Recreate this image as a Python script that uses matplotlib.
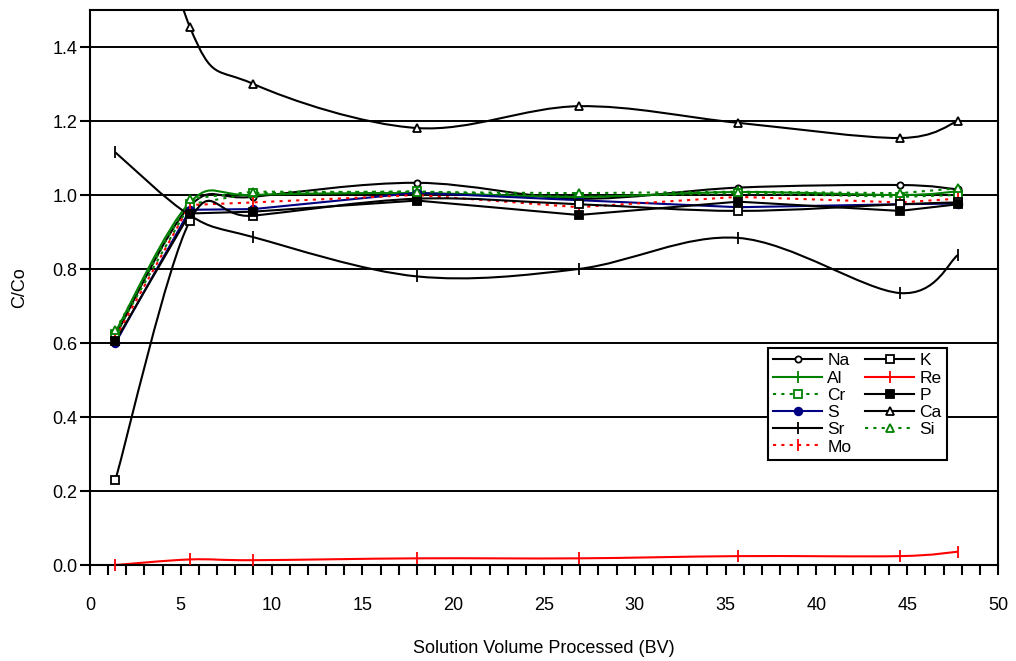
import matplotlib
matplotlib.use("Agg")
import matplotlib.pyplot as plt
from matplotlib.lines import Line2D
from matplotlib.patches import PathPatch
from matplotlib.path import Path

plt.rcParams["font.family"] = ["Liberation Sans", "DejaVu Sans"]

bv = [1.4, 5.5, 9.0, 18.0, 26.9, 35.7, 44.6, 47.8]

na = [0.62, 0.97, 0.995, 1.033, 0.99, 1.02, 1.027, 1.015]
k = [0.23, 0.93, 0.944, 0.99, 0.975, 0.957, 0.975, 0.98]
al = [0.63, 0.98, 1.0, 1.005, 0.995, 1.008, 1.0, 1.01]
re = [0.0, 0.015, 0.013, 0.018, 0.018, 0.024, 0.024, 0.036]
cr = [0.625, 0.975, 1.005, 1.01, 0.995, 1.005, 0.995, 1.0]
p = [0.605, 0.95, 0.955, 0.985, 0.946, 0.982, 0.957, 0.975]
s = [0.60, 0.96, 0.962, 1.006, 0.986, 0.967, 0.975, 0.977]
ca = [2.2, 1.454, 1.30, 1.181, 1.24, 1.195, 1.154, 1.20]
sr = [1.115, 0.945, 0.886, 0.78, 0.80, 0.884, 0.735, 0.838]
si = [0.635, 0.99, 1.009, 1.008, 1.005, 1.009, 1.005, 1.018]
mo = [0.615, 0.973, 0.98, 1.0, 0.967, 0.995, 0.98, 0.99]

GREEN = "#008000"
RED = "#ff0000"
NAVY = "#000080"
DOT = (0, (1.5, 2.5))

# name, values, color, linestyle, marker, filled, marker size, smoothed
series = [
    ("Na", na, "black", "-", "o", False, 4.5, True),
    ("Al", al, GREEN, "-", "|", True, 9, True),
    ("Cr", cr, GREEN, DOT, "s", False, 5.5, False),
    ("S", s, NAVY, "-", "o", True, 5.5, False),
    ("Sr", sr, "black", "-", "|", True, 9, True),
    ("Mo", mo, RED, DOT, "|", True, 9, False),
    ("K", k, "black", "-", "s", False, 5.5, True),
    ("Re", re, RED, "-", "|", True, 9, True),
    ("P", p, "black", "-", "s", True, 6, False),
    ("Ca", ca, "black", "-", "^", False, 5.5, True),
    ("Si", si, GREEN, DOT, "^", False, 6, False),
]


def smooth_path(xs, ys):
    # excel style bezier smoothing through the points
    pts = list(zip(xs, ys))
    verts = [pts[0]]
    codes = [Path.MOVETO]
    n = len(pts)
    for i in range(n - 1):
        p0 = pts[i - 1] if i > 0 else pts[i]
        p1 = pts[i]
        p2 = pts[i + 1]
        p3 = pts[i + 2] if i + 2 < n else pts[i + 1]
        c1 = (p1[0] + (p2[0] - p0[0]) / 6, p1[1] + (p2[1] - p0[1]) / 6)
        c2 = (p2[0] - (p3[0] - p1[0]) / 6, p2[1] - (p3[1] - p1[1]) / 6)
        verts += [c1, c2, p2]
        codes += [Path.CURVE4] * 3
    return Path(verts, codes)


fig = plt.figure(figsize=(10.16, 6.61), dpi=100)
ax = fig.add_axes([90 / 1016, 96 / 661, 908 / 1016, 555 / 661])

handles = []
for name, vals, col, ls, mk, filled, ms, smooth in series:
    face = col if filled else "white"
    if smooth:
        ax.add_patch(PathPatch(smooth_path(bv, vals), facecolor="none",
                               edgecolor=col, linewidth=1.5, linestyle=ls, zorder=3))
    else:
        ax.plot(bv, vals, color=col, linestyle=ls, linewidth=1.5, zorder=3)
    ax.plot(bv, vals, linestyle="none", marker=mk, markersize=ms,
            markerfacecolor=face, markeredgecolor=col, markeredgewidth=1.3,
            zorder=6, clip_on=(name != "Re"))
    handles.append(Line2D([], [], color=col, linestyle=ls, linewidth=1.5, marker=mk,
                          markersize=ms, markerfacecolor=face, markeredgecolor=col,
                          markeredgewidth=1.3, label=name))

ax.set_xlim(0, 50)
ax.set_ylim(0, 1.5)
ax.set_xticks(range(0, 51, 5))
ax.set_xticks(range(0, 51, 1), minor=True)
ax.set_yticks([0.0, 0.2, 0.4, 0.6, 0.8, 1.0, 1.2, 1.4])
ax.set_yticklabels([f"{v:.1f}" for v in ax.get_yticks()])

ax.tick_params(axis="x", which="both", direction="out", length=7, width=1.5,
               labelsize=13, pad=16)
ax.tick_params(axis="y", direction="out", length=7, width=1.5, labelsize=13, pad=2)

for v in [0.2, 0.4, 0.6, 0.8, 1.0, 1.2, 1.4]:
    ax.axhline(v, color="black", linewidth=1.4, zorder=1)

for sp in ax.spines.values():
    sp.set_linewidth(1.5)
    sp.set_zorder(5)

ax.set_xlabel("Solution Volume Processed (BV)", fontsize=13)
ax.xaxis.set_label_coords(0.5, -0.135)
ax.set_ylabel("C/Co", fontsize=13)
ax.yaxis.set_label_coords(-0.068, 0.5)

leg = ax.legend(handles=handles, ncol=2, loc="upper left",
                bbox_to_anchor=(0.747, 0.391), fontsize=12.5, frameon=True,
                fancybox=False, edgecolor="black", framealpha=1,
                handlelength=2.8, handletextpad=0.3, labelspacing=0.12,
                columnspacing=0.8, borderpad=0.3, borderaxespad=0)
leg.get_frame().set_linewidth(1.5)
leg.set_zorder(7)

fig.savefig("out.png", dpi=100)
